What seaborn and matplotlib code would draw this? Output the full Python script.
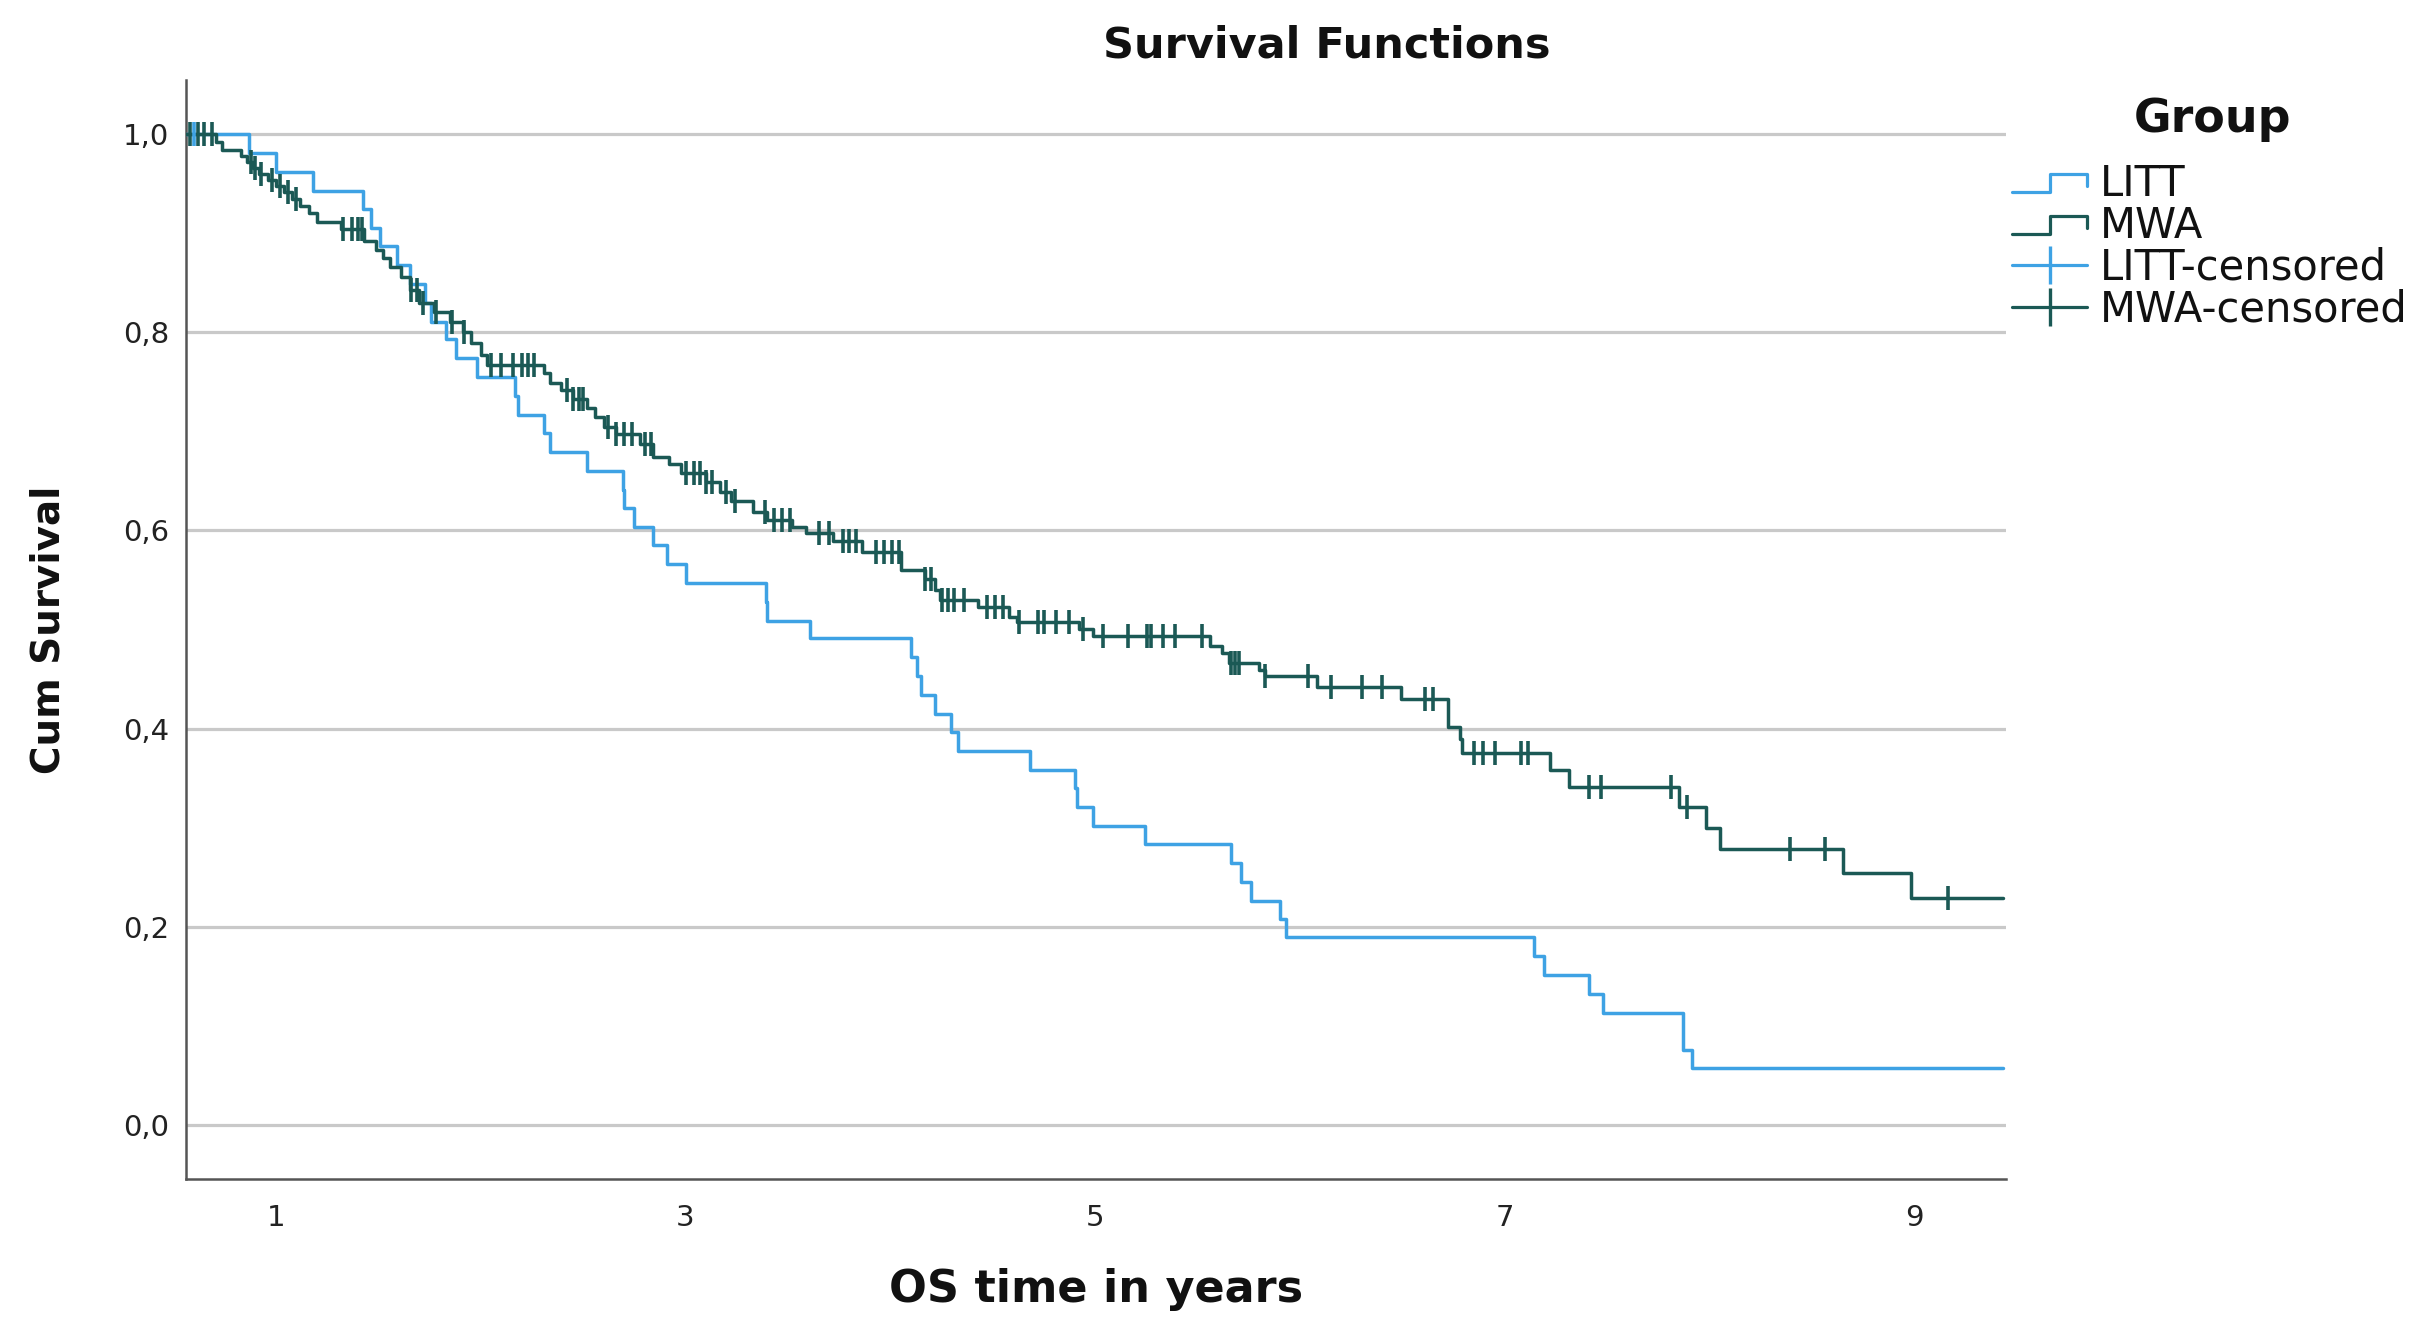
import numpy as np
import pandas as pd
import matplotlib
matplotlib.use("Agg")
import matplotlib.pyplot as plt
from matplotlib.lines import Line2D
from matplotlib.legend_handler import HandlerBase
import seaborn as sns

# ---------------- data ----------------
groups = ["LITT", "MWA"]

litt_time = [0.56, 0.87, 1.00, 1.18, 1.425, 1.465, 1.51, 1.59, 1.655, 1.73, 1.76, 1.83,
             1.88, 1.98, 2.17, 2.18, 2.31, 2.34, 2.52, 2.695, 2.70, 2.75, 2.84, 2.91,
             3.00, 3.395, 3.40, 3.61, 4.10, 4.13, 4.15, 4.22, 4.295, 4.33, 4.68, 4.90,
             4.91, 4.99, 5.245, 5.66, 5.71, 5.76, 5.90, 5.93, 7.14, 7.19, 7.41, 7.48,
             7.87, 7.91, 9.43]
litt_surv = [1.000, 0.981, 0.962, 0.943, 0.925, 0.906, 0.887, 0.868, 0.849, 0.830, 0.811, 0.793,
             0.774, 0.755, 0.736, 0.717, 0.698, 0.679, 0.660, 0.641, 0.623, 0.604, 0.585, 0.566,
             0.547, 0.528, 0.509, 0.491, 0.472, 0.453, 0.434, 0.415, 0.396, 0.377, 0.358, 0.340,
             0.321, 0.302, 0.283, 0.264, 0.245, 0.226, 0.208, 0.189, 0.170, 0.151, 0.132, 0.113,
             0.075, 0.057, 0.057]
litt_censored = [0.60]

mwa_time = [0.56, 0.71, 0.74, 0.83, 0.86, 0.89, 0.92, 0.96, 1.00, 1.04, 1.08, 1.12, 1.16,
            1.20, 1.32, 1.43, 1.49, 1.525, 1.56, 1.61, 1.655, 1.70, 1.77, 1.85, 1.915, 1.955,
            2.00, 2.03, 2.31, 2.34, 2.39, 2.45, 2.52, 2.56, 2.60, 2.66, 2.78, 2.84, 2.92,
            2.98, 3.10, 3.17, 3.22, 3.33, 3.40, 3.52, 3.59, 3.72, 3.86, 4.05, 4.17, 4.22,
            4.24, 4.43, 4.58, 4.62, 4.92, 4.99, 5.56, 5.62, 5.655, 5.80, 5.83, 6.08, 6.49,
            6.72, 6.78, 6.79, 7.22, 7.31, 7.85, 7.98, 8.05, 8.65, 8.98, 9.43]
mwa_surv = [1.000, 0.992, 0.984, 0.978, 0.972, 0.966, 0.960, 0.954, 0.948, 0.942, 0.935, 0.928, 0.921,
            0.912, 0.905, 0.892, 0.883, 0.875, 0.866, 0.856, 0.843, 0.830, 0.821, 0.811, 0.800, 0.789,
            0.777, 0.767, 0.759, 0.749, 0.742, 0.733, 0.724, 0.715, 0.705, 0.697, 0.687, 0.674, 0.667,
            0.658, 0.649, 0.639, 0.630, 0.619, 0.611, 0.604, 0.597, 0.589, 0.578, 0.560, 0.551, 0.540,
            0.530, 0.523, 0.513, 0.508, 0.501, 0.493, 0.483, 0.476, 0.466, 0.459, 0.453, 0.442, 0.430,
            0.402, 0.389, 0.375, 0.358, 0.341, 0.321, 0.300, 0.278, 0.254, 0.229, 0.229]
mwa_censored = [0.58, 0.62, 0.65, 0.69, 0.88, 0.90, 0.93, 0.98, 1.02, 1.06, 1.10, 1.33, 1.37,
                1.40, 1.42, 1.66, 1.69, 1.72, 1.78, 1.86, 1.92, 2.05, 2.10, 2.16, 2.20, 2.23,
                2.26, 2.42, 2.45, 2.48, 2.50, 2.62, 2.66, 2.70, 2.74, 2.80, 2.83, 3.00, 3.04,
                3.07, 3.10, 3.13, 3.20, 3.24, 3.39, 3.43, 3.47, 3.51, 3.65, 3.70, 3.77, 3.80,
                3.83, 3.93, 3.97, 4.01, 4.04, 4.17, 4.20, 4.25, 4.28, 4.31, 4.36, 4.47, 4.51,
                4.55, 4.63, 4.72, 4.75, 4.81, 4.87, 4.94, 5.04, 5.16, 5.25, 5.27, 5.33, 5.39,
                5.52, 5.66, 5.68, 5.70, 5.83, 6.04, 6.15, 6.30, 6.40, 6.61, 6.65, 6.85, 6.89,
                6.95, 7.08, 7.11, 7.41, 7.47, 7.81, 7.89, 8.39, 8.56, 9.16]

x_ticks = [1, 3, 5, 7, 9]
y_ticks = [0.0, 0.2, 0.4, 0.6, 0.8, 1.0]
y_tick_labels = ["0,0", "0,2", "0,4", "0,6", "0,8", "1,0"]

colors = {"LITT": "#3ea2e4", "MWA": "#1b5955"}

# ---------------- build tables ----------------
curves = pd.concat([
    pd.DataFrame({"time": litt_time, "surv": litt_surv, "group": "LITT"}),
    pd.DataFrame({"time": mwa_time, "surv": mwa_surv, "group": "MWA"}),
], ignore_index=True)


def level_at(times, survs, t):
    idx = np.searchsorted(np.asarray(times), t, side="right") - 1
    return np.asarray(survs)[idx]


cens = pd.concat([
    pd.DataFrame({"time": litt_censored,
                  "surv": level_at(litt_time, litt_surv, litt_censored), "group": "LITT"}),
    pd.DataFrame({"time": mwa_censored,
                  "surv": level_at(mwa_time, mwa_surv, mwa_censored), "group": "MWA"}),
], ignore_index=True)

# ---------------- figure ----------------
sns.set_theme(style="white")
plt.rcParams["font.family"] = ["DejaVu Sans"]

W, H = 2422, 1329
fig = plt.figure(figsize=(W / 100, H / 100), dpi=100)
ax = fig.add_axes([186 / W, 1 - 1179 / H, (2006 - 186) / W, (1179 - 80) / H])

for yv in y_ticks:
    ax.axhline(yv, color="#c9c9c9", lw=2.3, zorder=0)

sns.lineplot(data=curves, x="time", y="surv", hue="group", palette=colors,
             drawstyle="steps-post", estimator=None, sort=True, legend=False,
             linewidth=2.5, ax=ax, zorder=3)

for g in groups:
    sub = cens[cens["group"] == g]
    ax.plot(sub["time"], sub["surv"], linestyle="none", marker="|",
            markersize=17, markeredgewidth=2.6, color=colors[g], zorder=4)

ax.set_xlim(0.562, 9.445)
ax.set_ylim(-0.055, 1.055)
ax.set_xticks(x_ticks)
ax.set_xticklabels([str(v) for v in x_ticks])
ax.set_yticks(y_ticks)
ax.set_yticklabels(y_tick_labels)
ax.tick_params(axis="both", length=0, labelsize=21, colors="#222222")
ax.tick_params(axis="x", pad=18)
ax.tick_params(axis="y", pad=12)

for s in ["top", "right"]:
    ax.spines[s].set_visible(False)
for s in ["left", "bottom"]:
    ax.spines[s].set_color("#555555")
    ax.spines[s].set_linewidth(1.8)

ax.set_xlabel("OS time in years", fontsize=32, fontweight="bold", labelpad=26, color="#111111")
ax.set_ylabel("Cum Survival", fontsize=28, fontweight="bold", labelpad=40, color="#111111")
fig.text(1327 / W, 1 - 46 / H, "Survival Functions", fontsize=31, fontweight="bold",
         ha="center", va="center", color="#111111")
fig.text(2212 / W, 1 - 119 / H, "Group", fontsize=33, fontweight="bold",
         ha="center", va="center", color="#111111")


# ---------------- legend ----------------
class StepHandler(HandlerBase):
    def create_artists(self, legend, orig_handle, xdescent, ydescent, width, height,
                       fontsize, trans):
        lo = -ydescent + height * 0.15
        hi = -ydescent + height * 0.75
        xs = [-xdescent, -xdescent + width * 0.5, -xdescent + width * 0.5,
              -xdescent + width, -xdescent + width]
        ys = [lo, lo, hi, hi, lo + (hi - lo) * 0.35]
        ln = Line2D(xs, ys, color=orig_handle.get_color(), lw=2.3, transform=trans)
        return [ln]


h_litt = Line2D([], [], color=colors["LITT"])
h_mwa = Line2D([], [], color=colors["MWA"])
h_litt_c = Line2D([], [], color=colors["LITT"], marker="|", markersize=28,
                  markeredgewidth=2.4, lw=2.3)
h_mwa_c = Line2D([], [], color=colors["MWA"], marker="|", markersize=28,
                 markeredgewidth=2.4, lw=2.3)

leg = fig.legend([h_litt, h_mwa, h_litt_c, h_mwa_c],
                 ["LITT", "MWA", "LITT-censored", "MWA-censored"],
                 handler_map={h_litt: StepHandler(), h_mwa: StepHandler()},
                 loc="upper left", bbox_to_anchor=(2012 / W, 1 - 163 / H),
                 frameon=False, fontsize=30,
                 handlelength=1.8, handletextpad=0.3, labelspacing=0.0,
                 borderpad=0.0, borderaxespad=0.0)
for t in leg.get_texts():
    t.set_color("#111111")

fig.savefig("out.png", dpi=100)
